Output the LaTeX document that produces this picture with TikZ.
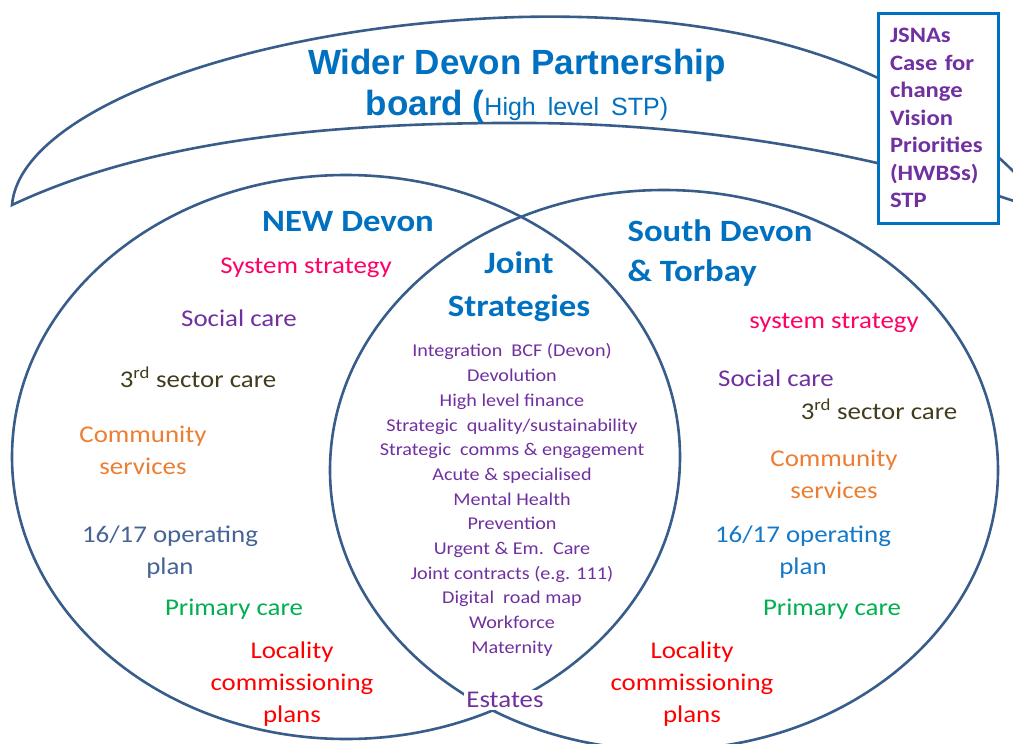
\documentclass[tikz,border=0pt]{standalone}
\usepackage{fontspec}
\setmainfont{Carlito}[FakeStretch=1.12]
\newfontfamily\arialfont{Liberation Sans}
\usetikzlibrary{shapes.geometric, positioning}
\definecolor{outline}{RGB}{56,93,138}
\definecolor{headblue}{RGB}{0,112,192}
\definecolor{stratpink}{RGB}{255,0,102}
\definecolor{socpurple}{RGB}{112,48,160}
\definecolor{sectorbrown}{RGB}{66,60,28}
\definecolor{commorange}{RGB}{237,125,49}
\definecolor{opblue}{RGB}{68,100,150}
\definecolor{opbright}{RGB}{20,120,200}
\definecolor{primgreen}{RGB}{0,176,80}
\definecolor{localred}{RGB}{255,0,0}
\tikzset{
  area/.style={ellipse, draw=outline, line width=2.6pt, inner sep=0pt},
  head/.style={text=headblue, font=\fontsize{31}{40}\selectfont\bfseries,
               align=center, inner sep=0pt},
  item/.style={font=\fontsize{24}{32}\selectfont, align=center, inner sep=0pt},
  jointitem/.style={text=socpurple, font=\fontsize{18}{24.7}\selectfont,
                    align=center, inner sep=0pt},
  notebox/.style={rectangle, draw=headblue, line width=3pt, fill=white,
                  minimum width=120pt, minimum height=210pt, inner xsep=12pt,
                  text width=96pt, align=left, text=socpurple,
                  font=\fontsize{22}{27.5}\selectfont\bfseries},
}

\begin{document}
\begin{tikzpicture}[x=1pt, y=-1pt]
  \useasboundingbox (0,0) rectangle (1013,744);
  \clip (0,0) rectangle (1013,744);

  % Partnership board banner
  \draw[outline, line width=2.6pt, line join=miter]
    (1040,200) .. controls (920,60) and (740,12) .. (520,17)
    .. controls (250,25) and (20,110) .. (12,205)
    .. controls (150,140) and (330,122) .. (530,123)
    .. controls (720,124) and (900,160) .. (1040,210);

  % The two footprints
  \node[area, minimum width=668pt, minimum height=564pt] (newdevon) at (346,457) {};
  \node[area, minimum width=668pt, minimum height=560pt] (southdevon) at (664,470) {};

  % Side note
  \node[notebox] (notes) at (938,118)
    {JSNAs\\Case for\\change\\Vision\\Priorities\\(HWBSs)\\STP};

  % Headings
  \node[text=headblue, align=center, inner sep=0pt,
        font=\arialfont\fontsize{35}{41}\selectfont\bfseries] (board) at (517,86)
    {Wider Devon Partnership\\board ({\mdseries\fontsize{25}{41}\selectfont
     High\hspace{5pt} level\hspace{5pt} STP)}};
  \node[head] (newhead) at (348,222) {NEW Devon};
  \node[head, font=\fontsize{31}{43}\selectfont\bfseries] (jointhead) at (519,287) {Joint\\Strategies};
  \node[head, align=left] (southhead) at (720,253) {South Devon\\\& Torbay};

  % NEW Devon
  \node[item, text=stratpink] (nstrat) at (306,268) {System strategy};
  \node[item, text=socpurple] (nsocial) at (239,318) {Social care};
  \node[item, text=sectorbrown] (nsector) at (198,377) {3\textsuperscript{rd} sector care};
  \node[item, text=commorange] (ncomm) at (143,450) {Community\\services};
  \node[item, text=opblue] (nplan) at (170,552) {16/17 operating\\plan};
  \node[item, text=primgreen] (nprim) at (234,609) {Primary care};
  \node[item, text=localred] (nlocal) at (292,684) {Locality\\commissioning\\plans};

  % South Devon & Torbay
  \node[item, text=stratpink] (sstrat) at (834,323) {system strategy};
  \node[item, text=socpurple] (ssocial) at (776,378) {Social care};
  \node[item, text=sectorbrown] (ssector) at (879,409) {3\textsuperscript{rd} sector care};
  \node[item, text=commorange] (scomm) at (834,474) {Community\\services};
  \node[item, text=opbright] (splan) at (803,552) {16/17 operating\\plan};
  \node[item, text=primgreen] (sprim) at (832,609) {Primary care};
  \node[item, text=localred] (slocal) at (692,684) {Locality\\commissioning\\plans};

  % Joint strategies
  \node[jointitem] (jointlist) at (512,500)
    {Integration\ \ BCF (Devon)\\Devolution\\High level finance\\
     Strategic\ \ quality/sustainability\\Strategic\ \ comms \& engagement\\
     Acute \& specialised\\Mental Health\\Prevention\\Urgent \& Em.\ \ Care\\
     Joint contracts (e.g. 111)\\Digital\ \ road map\\Workforce\\Maternity};
  \node[item, text=socpurple, fill=white, inner sep=2pt] (estates) at (505,700) {Estates};
\end{tikzpicture}
\end{document}
